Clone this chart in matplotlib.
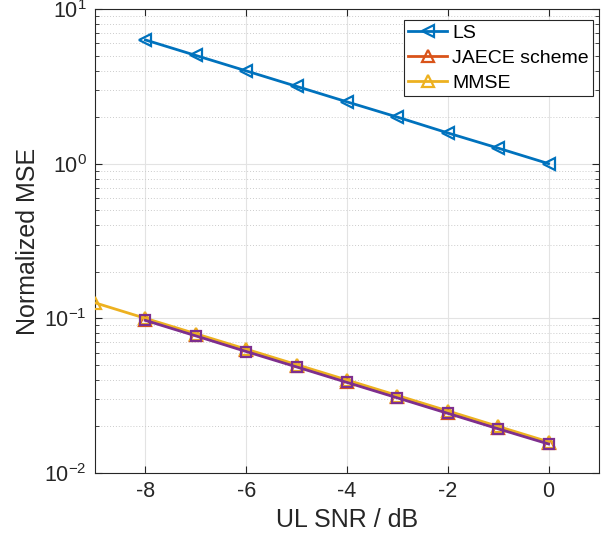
import matplotlib
matplotlib.use("Agg")
import matplotlib.pyplot as plt
from matplotlib.ticker import LogLocator, NullFormatter

plt.rcParams['font.family'] = ['Liberation Sans', 'DejaVu Sans']
plt.rcParams['mathtext.fontset'] = 'custom'
plt.rcParams['mathtext.rm'] = 'Liberation Sans'
plt.rcParams['mathtext.it'] = 'Liberation Sans:italic'

snr_ls = [-8, -7, -6, -5, -4, -3, -2, -1, 0]
mse_ls = [6.31, 5.01, 3.98, 3.16, 2.51, 2.0, 1.58, 1.26, 1.0]

snr_jaece = [-8, -7, -6, -5, -4, -3, -2, -1, 0]
mse_jaece = [0.098, 0.078, 0.062, 0.049, 0.039, 0.031, 0.0246, 0.0195, 0.0156]

snr_mmse = [-9, -8, -7, -6, -5, -4, -3, -2, -1, 0]
mse_mmse = [0.126, 0.1, 0.0795, 0.0632, 0.0502, 0.0399, 0.0317, 0.0252, 0.02, 0.0159]

snr_extra = [-8, -7, -6, -5, -4, -3, -2, -1, 0]
mse_extra = [0.097, 0.077, 0.061, 0.0485, 0.0385, 0.0306, 0.0243, 0.0193, 0.0154]

xticks = [-8, -6, -4, -2, 0]

W, H = 605, 544
fig = plt.figure(figsize=(W / 100, H / 100), dpi=100)
left, right, top, bottom = 95, 599, 9, 473
ax = fig.add_axes([left / W, 1 - bottom / H, (right - left) / W, (bottom - top) / H])

lw = 2.0
ms = 9
mew = 1.6
ax.plot(snr_ls, mse_ls, '-<', color='#0072BD', lw=lw, ms=ms, mew=mew, mfc='none', label='LS', zorder=3)
ax.plot(snr_jaece, mse_jaece, '-^', color='#D95319', lw=lw, ms=ms, mew=mew, mfc='none', label='JAECE scheme', zorder=3)
ax.plot(snr_mmse, mse_mmse, '-^', color='#EDB120', lw=lw, ms=ms, mew=mew, mfc='none', label='MMSE', zorder=4)
ax.plot(snr_extra, mse_extra, '-s', color='#7E2F8E', lw=lw, ms=7, mew=mew, mfc='none', zorder=5)

ax.set_yscale('log')
ax.set_xlim(-9, 1)
ax.set_ylim(1e-2, 1e1)
ax.set_xticks(xticks)
ax.set_xticklabels([str(t) for t in xticks])
ax.yaxis.set_major_locator(LogLocator(base=10, numticks=10))
ax.yaxis.set_minor_locator(LogLocator(base=10, subs=range(2, 10), numticks=20))
ax.yaxis.set_minor_formatter(NullFormatter())

ax.grid(True, which='major', color='#e3e3e3', lw=0.8, ls='-', zorder=0)
ax.grid(True, which='minor', axis='y', color='#cccccc', lw=0.7, ls=(0, (1, 2)), zorder=0)
ax.set_axisbelow(True)

for s in ax.spines.values():
    s.set_color('#262626')
    s.set_linewidth(0.8)
ax.tick_params(which='both', direction='in', top=True, right=True, colors='#262626', labelsize=15.5)
ax.tick_params(which='major', length=5, pad=6)
ax.tick_params(which='minor', length=3)

ax.set_xlabel('UL SNR / dB', fontsize=18, color='#262626', labelpad=4)
ax.set_ylabel('Normalized MSE', fontsize=18, color='#262626', labelpad=3)

# legend upper-right corner at pixel (593, 20)
lx = (593 - left) / (right - left)
ly = 1 - (20 - top) / (bottom - top)
leg = ax.legend(loc='upper right', bbox_to_anchor=(lx, ly), fontsize=14, frameon=True, fancybox=False,
                edgecolor='#262626', framealpha=1, borderaxespad=0,
                handlelength=2.0, borderpad=0.22, labelspacing=0.38, handletextpad=0.25)
leg.get_frame().set_linewidth(0.8)

fig.savefig('out.png', dpi=100)
